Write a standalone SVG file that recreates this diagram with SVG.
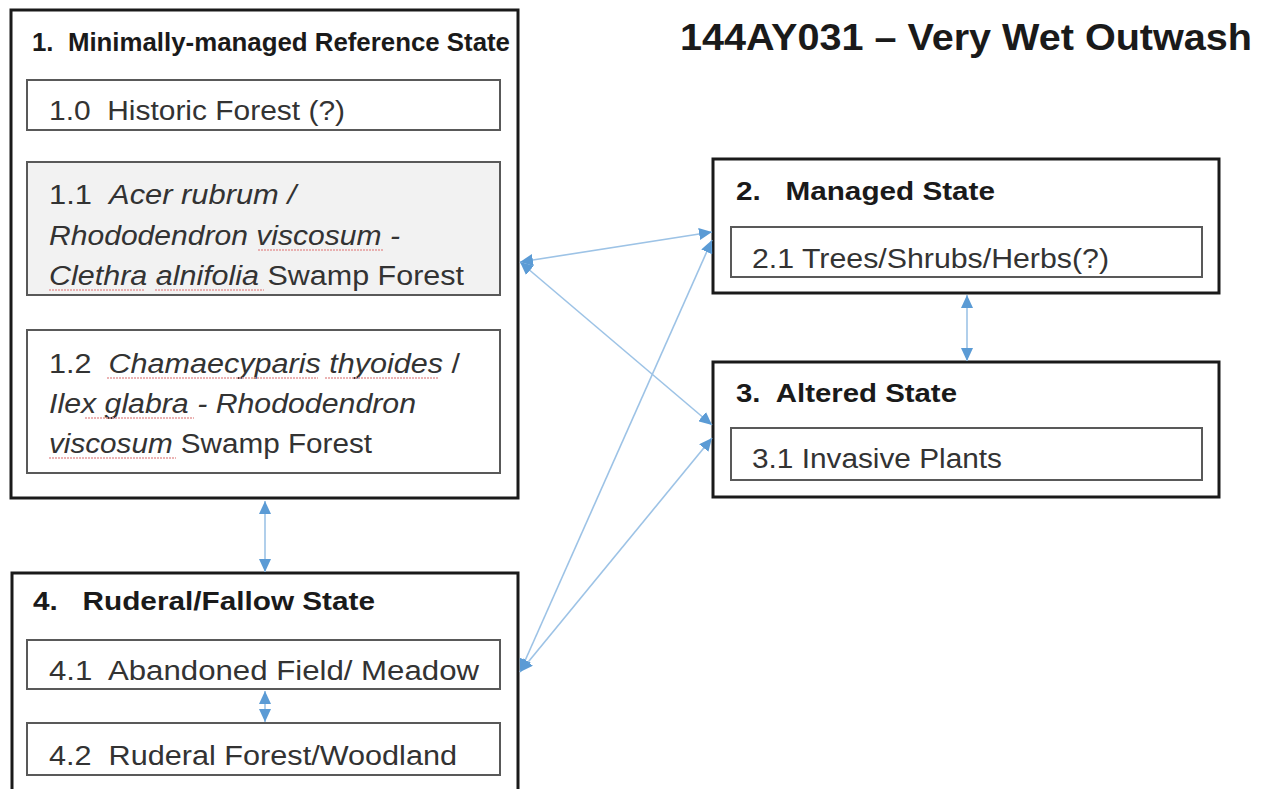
<svg xmlns="http://www.w3.org/2000/svg" width="1267" height="789" viewBox="0 0 1267 789">
<style>
.outer{fill:#fff;stroke:#1a1a1a;stroke-width:3}
.inner{fill:#fff;stroke:#595959;stroke-width:2}
.shade{fill:#f2f2f2}
text{white-space:pre}
.h{font-family:"Liberation Sans",Arial,sans-serif;font-weight:bold;font-size:25px;fill:#1a1a1a}
.t{font-family:"Liberation Sans",Arial,sans-serif;font-size:27px;fill:#333}
.i{font-style:italic}
.title{font-family:"Liberation Sans",Arial,sans-serif;font-weight:bold;font-size:36px;fill:#1a1a1a}
.c{fill:none;stroke:#9dc3e6;stroke-width:1.6}
.sq{fill:none;stroke:#e59a9a;stroke-width:1.3;stroke-dasharray:2 1}
</style>
<defs>
<marker id="ah" markerUnits="userSpaceOnUse" markerWidth="14" markerHeight="12" refX="13" refY="6" orient="auto-start-reverse">
<path d="M0,0 L13,6 L0,12 z" fill="#5b9bd5"/>
</marker>
</defs>
<rect width="1267" height="789" fill="#fff"/>
<text class="title" x="680" y="50" textLength="572" lengthAdjust="spacingAndGlyphs">144AY031 – Very Wet Outwash</text>

<g id="state1">
<rect class="outer" x="11" y="10" width="507" height="488"/>
<text class="h" x="32" y="51" textLength="478" lengthAdjust="spacingAndGlyphs">1.  Minimally-managed Reference State</text>
<g id="s1-0">
<rect class="inner" x="27" y="80" width="473" height="50"/>
<text class="t" x="49" y="120" textLength="296" lengthAdjust="spacingAndGlyphs">1.0  Historic Forest (?)</text>
</g>
<g id="s1-1">
<rect class="inner shade" x="27" y="162" width="473" height="133"/>
<text class="t" x="49" y="204" textLength="247" lengthAdjust="spacingAndGlyphs">1.1  <tspan class="i">Acer rubrum /</tspan></text>
<text class="t i" x="49" y="245" textLength="351" lengthAdjust="spacingAndGlyphs">Rhododendron viscosum -</text>
<text class="t" x="49" y="285" textLength="415" lengthAdjust="spacingAndGlyphs"><tspan class="i">Clethra alnifolia</tspan> Swamp Forest</text>
<path class="sq" d="M258,250 H383 M49,290 H145 M155,290 H264"/>
</g>
<g id="s1-2">
<rect class="inner" x="27" y="330" width="473" height="143"/>
<text class="t" x="49" y="373" textLength="411" lengthAdjust="spacingAndGlyphs">1.2  <tspan class="i">Chamaecyparis thyoides</tspan> /</text>
<text class="t i" x="49" y="413" textLength="367" lengthAdjust="spacingAndGlyphs">Ilex glabra - Rhododendron</text>
<text class="t" x="49" y="453" textLength="323" lengthAdjust="spacingAndGlyphs"><tspan class="i">viscosum</tspan> Swamp Forest</text>
<path class="sq" d="M107,378 H318 M325,378 H438 M85,418 H194 M49,458 H176"/>
</g>
</g>

<g id="state2">
<rect class="outer" x="713" y="159" width="506" height="134"/>
<text class="h" x="736" y="200" textLength="259" lengthAdjust="spacingAndGlyphs">2.   Managed State</text>
<g id="s2-1">
<rect class="inner" x="731" y="227" width="471" height="50"/>
<text class="t" x="752" y="268" textLength="357" lengthAdjust="spacingAndGlyphs">2.1 Trees/Shrubs/Herbs(?)</text>
</g>
</g>

<g id="state3">
<rect class="outer" x="713" y="362" width="506" height="135"/>
<text class="h" x="736" y="402" textLength="221" lengthAdjust="spacingAndGlyphs">3.  Altered State</text>
<g id="s3-1">
<rect class="inner" x="731" y="428" width="471" height="52"/>
<text class="t" x="752" y="468" textLength="250" lengthAdjust="spacingAndGlyphs">3.1 Invasive Plants</text>
</g>
</g>

<g id="state4">
<path class="outer" d="M12,795 L12,573 L518,573 L518,795"/>
<text class="h" x="33" y="610" textLength="342" lengthAdjust="spacingAndGlyphs">4.   Ruderal/Fallow State</text>
<g id="s4-1">
<rect class="inner" x="27" y="640" width="473" height="49"/>
<text class="t" x="49" y="680" textLength="430" lengthAdjust="spacingAndGlyphs">4.1  Abandoned Field/ Meadow</text>
</g>
<g id="s4-2">
<rect class="inner" x="27" y="723" width="473" height="52"/>
<text class="t" x="49" y="765" textLength="408" lengthAdjust="spacingAndGlyphs">4.2  Ruderal Forest/Woodland</text>
</g>
</g>

<g id="connectors">
<line class="c" x1="265" y1="501" x2="265" y2="572" marker-start="url(#ah)" marker-end="url(#ah)"/>
<line class="c" x1="265" y1="691" x2="265" y2="722" marker-start="url(#ah)" marker-end="url(#ah)"/>
<line class="c" x1="967" y1="295" x2="967" y2="361" marker-start="url(#ah)" marker-end="url(#ah)"/>
<line class="c" x1="520" y1="262" x2="712" y2="232" marker-start="url(#ah)" marker-end="url(#ah)"/>
<line class="c" x1="520" y1="262" x2="712" y2="425" marker-start="url(#ah)" marker-end="url(#ah)"/>
<line class="c" x1="520" y1="672" x2="712" y2="240" marker-start="url(#ah)" marker-end="url(#ah)"/>
<line class="c" x1="520" y1="672" x2="712" y2="438" marker-start="url(#ah)" marker-end="url(#ah)"/>
</g>
</svg>
